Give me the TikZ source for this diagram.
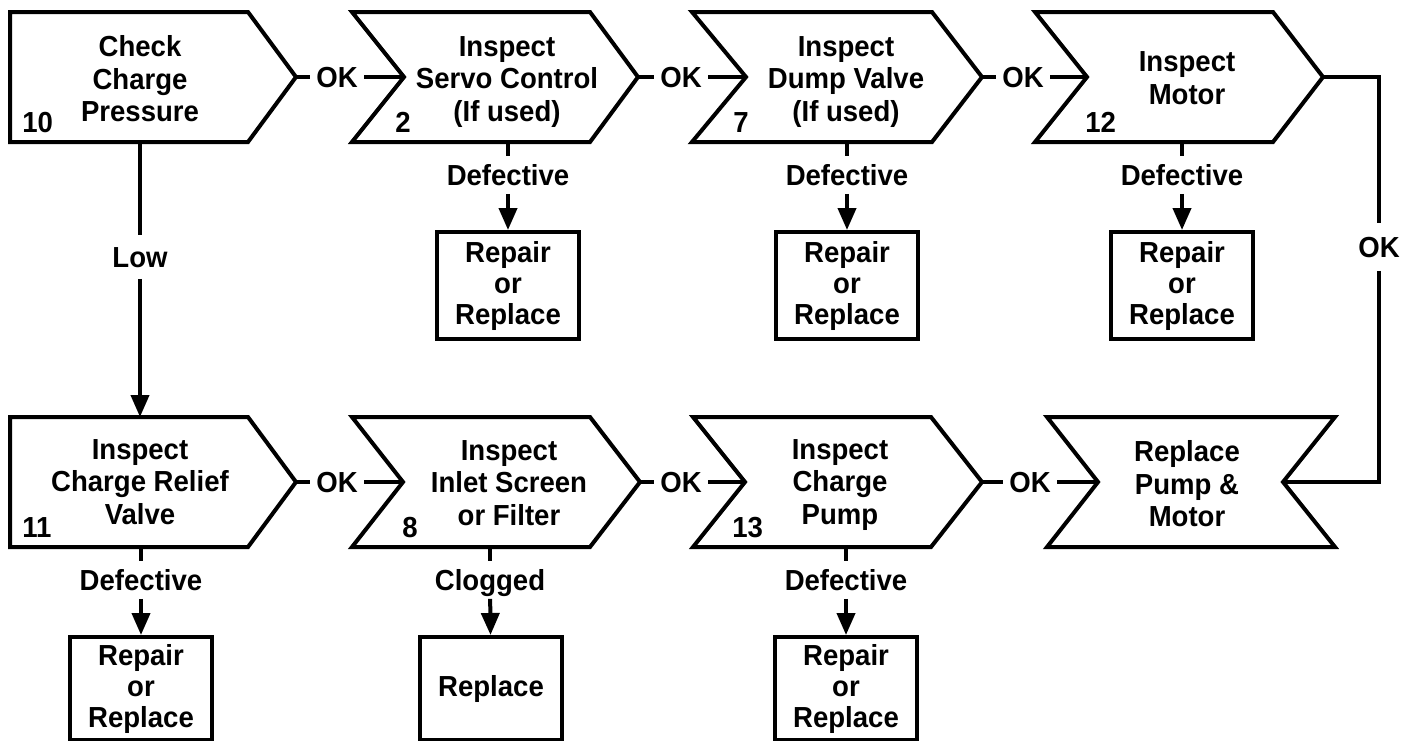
\documentclass[tikz,border=0pt]{standalone}
\usepackage{fontspec}
\setmainfont{Liberation Sans}[FakeStretch=0.95]
\usetikzlibrary{arrows.meta}

\tikzset{
	outline/.style={line width=2pt, line join=miter},
	link/.style={line width=2pt, line join=miter},
	arr/.style={line width=2pt, -{Triangle[length=11pt,width=9pt]}},
	txt/.style={align=center, inner sep=0pt, font=\bfseries\fontsize{14.5}{16.25}\selectfont},
	num/.style={anchor=base west, inner sep=0pt, font=\bfseries\fontsize{14.5}{16.25}\selectfont},
	lbl/.style={inner xsep=3pt, inner ysep=4pt, text height=10.4pt, text depth=0pt, font=\bfseries\fontsize{14.5}{16.25}\selectfont},
	fixbox/.style={draw, line width=2pt, anchor=north, minimum width=71pt, minimum height=53.5pt, inner sep=0pt, align=center, font=\bfseries\fontsize{14.5}{15.5}\selectfont},
}

\begin{document}
\begin{tikzpicture}[x=0.5pt, y=-0.5pt]
	\useasboundingbox (0,0) rectangle (1412,740);

	% top row
	\draw[outline] (10,12) -- (248,12) -- (296,77) coordinate (chk-tip) -- (248,142) -- (10,142) -- cycle;
	\draw[outline] (352,12) -- (590,12) -- (638,77) coordinate (servo-tip) -- (590,142) -- (352,142) -- (404,77) coordinate (servo-in) -- cycle;
	\draw[outline] (692,12) -- (932,12) -- (982,77) coordinate (dump-tip) -- (932,142) -- (692,142) -- (746,77) coordinate (dump-in) -- cycle;
	\draw[outline] (1035,12) -- (1273,12) -- (1323,77) coordinate (motor-tip) -- (1273,142) -- (1035,142) -- (1087,77) coordinate (motor-in) -- cycle;

	\node[txt] (chk) at (140,79) {Check\\Charge\\Pressure};
	\node[txt] (servo) at (507,82) {Inspect\\Servo Control\\(If used)};
	\node[txt] (dump) at (846,82) {Inspect\\Dump Valve\\(If used)};
	\node[txt] (motor) at (1187,78) {Inspect\\Motor};

	\node[num] (n10) at (22,132) {10};
	\node[num] (n2) at (395,132) {2};
	\node[num] (n7) at (733,132) {7};
	\node[num] (n12) at (1085,132) {12};

	% bottom row
	\draw[outline] (10,417) -- (248,417) -- (296,482) coordinate (relief-tip) -- (248,547) -- (10,547) -- cycle;
	\draw[outline] (352,417) -- (590,417) -- (640,482) coordinate (screen-tip) -- (590,547) -- (352,547) -- (403,482) coordinate (screen-in) -- cycle;
	\draw[outline] (693,417) -- (931,417) -- (982,482) coordinate (cpump-tip) -- (931,547) -- (693,547) -- (745,482) coordinate (cpump-in) -- cycle;
	\draw[outline] (1047,417) -- (1335,417) -- (1283,482) coordinate (swap-out) -- (1335,547) -- (1047,547) -- (1098,482) coordinate (swap-in) -- cycle;

	\node[txt] (relief) at (140,482) {Inspect\\Charge Relief\\Valve};
	\node[txt] (screen) at (509,483) {Inspect\\Inlet Screen\\or Filter};
	\node[txt] (cpump) at (840,485) {Inspect\\Charge\\Pump};
	\node[txt] (swap) at (1187,484) {Replace\\Pump \&\\Motor};

	\node[num] (n11) at (22,537) {11};
	\node[num] (n8) at (402,537) {8};
	\node[num] (n13) at (732,537) {13};

	% bottom middle points
	\coordinate (chk-bot) at (140,142);
	\coordinate (relief-top) at (140,417);
	\coordinate (servo-bot) at (508,142);
	\coordinate (dump-bot) at (847,142);
	\coordinate (motor-bot) at (1182,142);
	\coordinate (relief-bot) at (141,547);
	\coordinate (screen-bot) at (490,547);
	\coordinate (cpump-bot) at (846,547);

	% OK links
	\node[lbl] (okA) at (337,77) {OK};
	\node[lbl] (okB) at (681,77) {OK};
	\node[lbl] (okC) at (1023,77) {OK};
	\node[lbl] (okD) at (337,482) {OK};
	\node[lbl] (okE) at (681,482) {OK};
	\node[lbl] (okF) at (1030,482) {OK};
	\node[lbl, inner ysep=6.5pt] (okR) at (1379,247) {OK};
	\node[lbl, inner ysep=5.5pt] (low) at (140,257) {Low};

	\draw[link] (chk-tip) -- (okA) -- (servo-in);
	\draw[link] (servo-tip) -- (okB) -- (dump-in);
	\draw[link] (dump-tip) -- (okC) -- (motor-in);
	\draw[link] (relief-tip) -- (okD) -- (screen-in);
	\draw[link] (screen-tip) -- (okE) -- (cpump-in);
	\draw[link] (cpump-tip) -- (okF) -- (swap-in);
	\draw[link] (motor-tip) -| (okR.north);
	\draw[link] (okR.south) |- (swap-out);
	\draw[link] (chk-bot) -- (low);
	\draw[arr] (low) -- (relief-top);

	% repair boxes
	\node[lbl] (def2) at (508,175) {Defective};
	\node[lbl] (def7) at (847,175) {Defective};
	\node[lbl] (def12) at (1182,175) {Defective};
	\node[lbl] (def11) at (141,580) {Defective};
	\node[lbl] (clog8) at (490,580) {Clogged};
	\node[lbl] (def13) at (846,580) {Defective};

	\node[fixbox] (rep2) at (508,230) {Repair\\or\\Replace};
	\node[fixbox] (rep7) at (847,230) {Repair\\or\\Replace};
	\node[fixbox] (rep12) at (1182,230) {Repair\\or\\Replace};
	\node[fixbox, minimum height=51.5pt] (rep11) at (141,635) {Repair\\or\\Replace};
	\node[fixbox, minimum height=51.5pt] (rep8) at (491,635) {Replace};
	\node[fixbox, minimum height=51.5pt] (rep13) at (846,635) {Repair\\or\\Replace};

	\draw[link] (servo-bot) -- (def2);
	\draw[link] (dump-bot) -- (def7);
	\draw[link] (motor-bot) -- (def12);
	\draw[link] (relief-bot) -- (def11);
	\draw[link] (screen-bot) -- (clog8);
	\draw[link] (cpump-bot) -- (def13);
	\draw[arr] (def2) -- (rep2);
	\draw[arr] (def7) -- (rep7);
	\draw[arr] (def12) -- (rep12);
	\draw[arr] (def11) -- (rep11);
	\draw[arr] (clog8) -- (rep8);
	\draw[arr] (def13) -- (rep13);
\end{tikzpicture}
\end{document}
